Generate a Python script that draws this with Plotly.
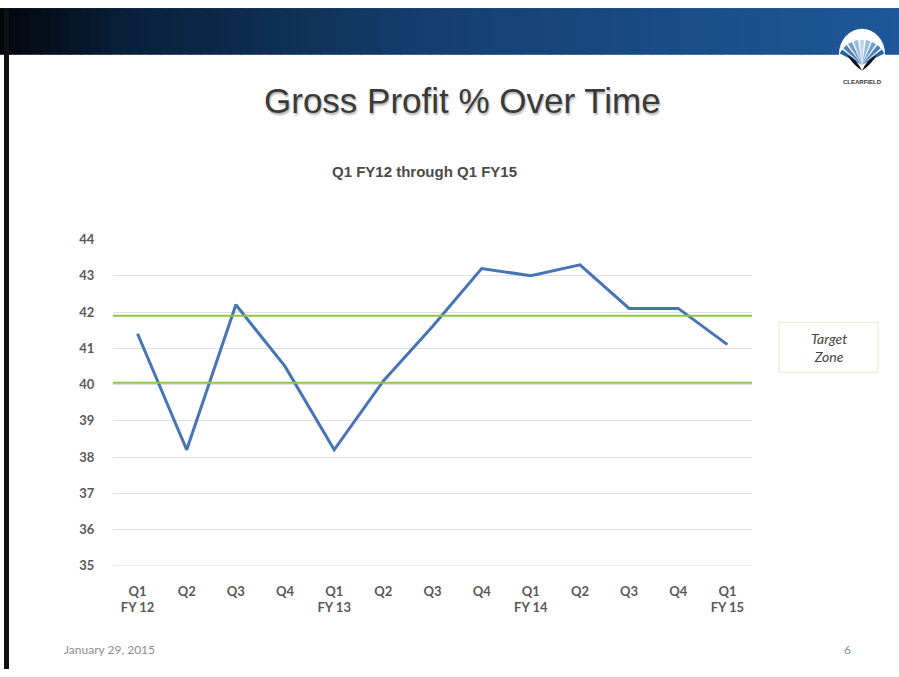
import plotly.graph_objects as go
import math

# ---------------- data ----------------
quarters = ["Q1<br>FY 12", "Q2", "Q3", "Q4",
            "Q1<br>FY 13", "Q2", "Q3", "Q4",
            "Q1<br>FY 14", "Q2", "Q3", "Q4",
            "Q1<br>FY 15"]
gross_profit_pct = [41.4, 38.2, 42.2, 40.5, 38.2, 40.1, 41.6, 43.2, 43.0, 43.3, 42.1, 42.1, 41.1]
target_low = 40.05
target_high = 41.9
y_ticks = [35, 36, 37, 38, 39, 40, 41, 42, 43, 44]

W, H = 899, 677

# observed mapping of the rendered page: screen_y = OFF + K * layout_y
OFF, K = 7.15, 0.978


def px(x):
    return x / W


def py(y):
    ly = (y - OFF) / K
    ly = min(max(ly, 0), H)
    return 1 - ly / H


xidx = list(range(len(quarters)))

fig = go.Figure()
fig.add_trace(go.Scatter(
    x=xidx, y=gross_profit_pct, mode="lines",
    line=dict(color="#4775b3", width=3),
    hoverinfo="y", showlegend=False,
))

shapes = []


def lerp(c1, c2, t):
    return tuple(round(a + (b - a) * t) for a, b in zip(c1, c2))


# header gradient bar
stops = [(0, (2, 6, 12)), (120, (8, 30, 56)), (420, (20, 62, 110)), (899, (30, 88, 154))]
step = 10
for x0 in range(0, W, step):
    xm = x0 + step / 2
    for i in range(len(stops) - 1):
        if stops[i][0] <= xm <= stops[i + 1][0]:
            t = (xm - stops[i][0]) / (stops[i + 1][0] - stops[i][0])
            c = lerp(stops[i][1], stops[i + 1][1], t)
            break
    shapes.append(dict(type="rect", xref="paper", yref="paper",
                       x0=px(x0), x1=px(min(x0 + step + 1, W)), y0=py(54), y1=py(7.2),
                       fillcolor="rgb(%d,%d,%d)" % c, line=dict(width=0), layer="below"))

# left black border
shapes.append(dict(type="rect", xref="paper", yref="paper", x0=px(4), x1=px(9),
                   y0=0, y1=py(8), fillcolor="#111111", line=dict(width=0)))

# logo: white disc
cx, cy = 862, 58
shapes.append(dict(type="circle", xref="paper", yref="paper",
                   x0=px(cx - 23), x1=px(cx + 23), y0=py(cy + 20), y1=py(cy - 30),
                   fillcolor="white", line=dict(width=0)))
# fan rays
n_rays = 9
for k in range(n_rays):
    a0 = math.radians(25 + k * 130 / n_rays + 2)
    a1 = math.radians(25 + (k + 1) * 130 / n_rays - 2)
    r = 25
    ox, oy = cx, cy + 6
    pts = [(ox, oy), (ox + r * math.cos(a0), oy - r * math.sin(a0)),
           (ox + r * math.cos(a1), oy - r * math.sin(a1))]
    path = "M " + " L ".join("%f,%f" % (px(a), py(b)) for a, b in pts) + " Z"
    t = abs(k - (n_rays - 1) / 2) / ((n_rays - 1) / 2)
    col = lerp((190, 215, 238), (40, 100, 170), t)
    shapes.append(dict(type="path", xref="paper", yref="paper", path=path,
                       fillcolor="rgb(%d,%d,%d)" % col, line=dict(width=0)))
# black leaves
for sgn in (-1, 1):
    pts = [(cx, cy + 12), (cx + sgn * 4, cy + 2), (cx + sgn * 15, cy - 4), (cx + sgn * 9, cy + 6)]
    path = "M %f,%f Q %f,%f %f,%f Q %f,%f %f,%f Z" % (
        px(pts[0][0]), py(pts[0][1]), px(pts[1][0]), py(pts[1][1]),
        px(pts[2][0]), py(pts[2][1]), px(pts[3][0]), py(pts[3][1]),
        px(pts[0][0]), py(pts[0][1]))
    shapes.append(dict(type="path", xref="paper", yref="paper", path=path,
                       fillcolor="#111111", line=dict(width=0)))

# bottom gridline (35)
shapes.append(dict(type="line", xref="x domain", yref="y", x0=0, x1=1, y0=y_ticks[0], y1=y_ticks[0],
                   line=dict(color="#e0e0e0", width=1), layer="below"))

# target zone lines
for v in (target_low, target_high):
    shapes.append(dict(type="line", xref="x domain", yref="y", x0=0, x1=1, y0=v, y1=v,
                       line=dict(color="#8dc641", width=2)))

# target zone box
shapes.append(dict(type="rect", xref="paper", yref="paper",
                   x0=px(779), x1=px(878), y0=py(372), y1=py(322),
                   fillcolor="white", line=dict(color="#e6ecd6", width=1)))

annotations = [
    dict(text="Gross Profit % Over Time", x=px(462), y=py(100), xref="paper", yref="paper",
         showarrow=False, xanchor="center", yanchor="middle",
         font=dict(family="Liberation Sans, Arial", size=35, color="#3a3a3a",
                   shadow="1px 2px 2px rgba(0,0,0,0.3)")),
    dict(text="<b>Q1 FY12 through Q1 FY15</b>", x=px(424), y=py(171), xref="paper", yref="paper",
         showarrow=False, xanchor="center", yanchor="middle",
         font=dict(family="Liberation Sans, Arial", size=15, color="#4a4a4a")),
    dict(text="<i>Target<br>Zone</i>", x=px(829), y=py(347), xref="paper", yref="paper",
         showarrow=False, xanchor="center", yanchor="middle",
         font=dict(family="Lato, Open Sans", size=14, color="#444444")),
    dict(text="January 29, 2015", x=px(62), y=py(650), xref="paper", yref="paper",
         showarrow=False, xanchor="left", yanchor="middle",
         font=dict(family="Lato, Open Sans", size=12, color="#8c8c8c")),
    dict(text="6", x=px(853), y=py(650), xref="paper", yref="paper",
         showarrow=False, xanchor="right", yanchor="middle",
         font=dict(family="Lato, Open Sans", size=12, color="#8c8c8c")),
    dict(text="<b>CLEARFIELD</b>", x=px(862), y=py(81), xref="paper", yref="paper",
         showarrow=False, xanchor="center", yanchor="middle",
         font=dict(family="Liberation Sans, Arial", size=6, color="#333333")),
]

fig.update_layout(
    width=W, height=H, autosize=False,
    margin=dict(l=0, r=0, t=0, b=0),
    paper_bgcolor="white", plot_bgcolor="white",
    shapes=shapes, annotations=annotations,
    showlegend=False,
    xaxis=dict(domain=[px(113), px(752)], range=[-0.5, len(quarters) - 0.5],
               tickmode="array", tickvals=xidx, ticktext=quarters,
               showgrid=False, zeroline=False, showline=False,
               ticks="outside", ticklen=13, tickcolor="rgba(0,0,0,0)",
               tickfont=dict(family="Lato, Open Sans", size=13, color="#595959", weight="bold"),
               fixedrange=True),
    yaxis=dict(domain=[py(566), py(239)], range=[35, 44],
               tickmode="array", tickvals=y_ticks, ticktext=[str(v) for v in y_ticks],
               showgrid=True, gridcolor="#e0e0e0", gridwidth=1,
               zeroline=False, showline=False,
               ticks="outside", ticklen=15, tickcolor="rgba(0,0,0,0)",
               tickfont=dict(family="Lato, Open Sans", size=13, color="#595959", weight="bold"),
               fixedrange=True),
)

fig.write_html("out.html")
